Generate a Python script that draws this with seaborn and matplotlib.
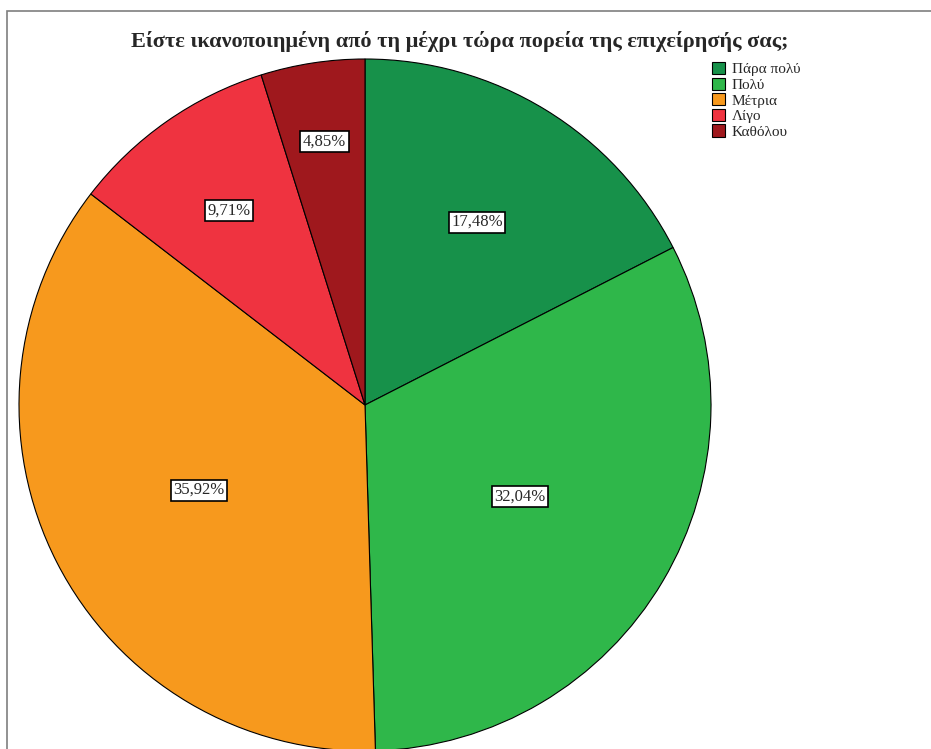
import numpy as np
import matplotlib
matplotlib.use('Agg')
import matplotlib.pyplot as plt
from matplotlib.patches import Rectangle
import seaborn as sns

# data
categories = ['Πάρα πολύ', 'Πολύ', 'Μέτρια', 'Λίγο', 'Καθόλου']
percents = [17.48, 32.04, 35.92, 9.71, 4.85]

colors = sns.color_palette(['#17914a', '#2fb74a', '#f7991d', '#ef3340', '#9f181d'])
# how far out each label sits (fraction of the radius), as SPSS put them
label_r = [0.62, 0.52, 0.54, 0.685, 0.77]

sns.set_style('white')
plt.rcParams['font.family'] = ['Liberation Serif', 'DejaVu Serif']

W, H = 931, 749
cx, cy, R = 365, 405, 346

fig = plt.figure(figsize=(W / 100, H / 100), dpi=100)
ax = fig.add_axes([0, 0, 1, 1])

wedges, _ = ax.pie(percents, colors=colors, startangle=90, counterclock=False,
                   radius=1, wedgeprops=dict(edgecolor='black', linewidth=0.8))

ax.set_xlim(-cx / R, (W - cx) / R)
ax.set_ylim(-(H - cy) / R, cy / R)
ax.set_aspect('equal')
ax.axis('off')

# percent labels in white boxes
for w, p, lr in zip(wedges, percents, label_r):
    mid = np.deg2rad((w.theta1 + w.theta2) / 2)
    ax.text(lr * np.cos(mid), lr * np.sin(mid),
            f'{p:.2f}%'.replace('.', ','), ha='center', va='center', fontsize=12,
            bbox=dict(boxstyle='square,pad=0.15', fc='white', ec='black', lw=1.2))

fig.text(460 / W, 1 - 42 / H,
         'Είστε ικανοποιημένη από τη μέχρι τώρα πορεία της επιχείρησής σας;',
         ha='center', va='center', fontsize=16, fontweight='bold')

leg = ax.legend(wedges, categories, loc='upper left',
                bbox_to_anchor=(712 / W, 1 - 62 / H), bbox_transform=fig.transFigure,
                frameon=False, fontsize=11, handlelength=0.85, handleheight=0.85,
                handletextpad=0.45, labelspacing=0.08, borderaxespad=0,
                borderpad=0)

# outer frame
fig.patches.append(Rectangle((7 / W, -0.1), 1.2, 1.1 - 11 / H, transform=fig.transFigure,
                             fill=False, edgecolor='#7f7f7f', linewidth=1.2))

fig.savefig('out.png', dpi=100)
